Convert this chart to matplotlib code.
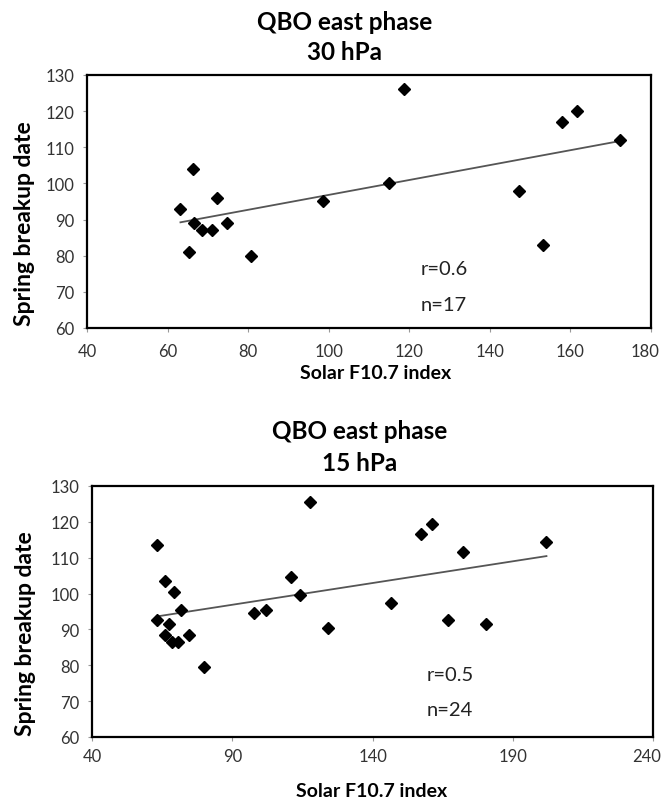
import matplotlib.pyplot as plt
import matplotlib.transforms as mtransforms
import numpy as np

plt.rcParams['font.family'] = ['Lato', 'DejaVu Sans']

# 30 hPa panel
f107_30 = [118.6, 157.8, 161.7, 172.2, 66.2, 115.0, 147.3, 63.2, 72.2, 98.7,
           66.6, 68.6, 71.1, 74.8, 65.3, 80.8, 153.3]
date_30 = [126, 117, 120, 112, 104, 100, 98, 93, 96, 95,
           89, 87, 87, 89, 81, 80, 83]

# 15 hPa panel
f107_15 = [117.7, 63.1, 157.4, 161.2, 172.2, 202.0, 65.9, 69.2, 111.0, 114.3,
           71.8, 97.7, 101.9, 146.6, 63.1, 67.6, 65.9, 68.4, 70.7, 74.4,
           80.0, 124.3, 166.9, 180.4]
date_15 = [125.5, 113.5, 116.5, 119.5, 111.5, 114.5, 103.5, 100.5, 104.5, 99.5,
           95.5, 94.5, 95.5, 97.5, 92.5, 91.5, 88.5, 86.5, 86.5, 88.5,
           79.5, 90.5, 92.5, 91.5]

panels = [
    dict(x=f107_30, y=date_30, level='30 hPa', r='r=0.6', n='n=17',
         xlim=(40, 180), xticks=np.arange(40, 181, 20),
         rect=[0.1312, 0.5908, 0.8507, 0.3147], rpos=(128.6, 76.5, 66.6),
         title_x=0.520, title_y=(0.9726, 0.9353), xlab=(0.512, -0.174),
         ylab=(-0.11, 0.415), xpad=8),
    dict(x=f107_15, y=date_15, level='15 hPa', r='r=0.5', n='n=24',
         xlim=(40, 240), xticks=np.arange(40, 241, 50),
         rect=[0.1388, 0.0821, 0.8462, 0.3122], rpos=(167.7, 77.3, 67.8),
         title_x=0.542, title_y=(0.4630, 0.4237), xlab=(0.499, -0.215),
         ylab=(-0.119, 0.415), xpad=5),
]

fig = plt.figure(figsize=(6.63, 8.04), dpi=100)

for p in panels:
    ax = fig.add_axes(p['rect'])
    x = np.array(p['x'])
    y = np.array(p['y'])
    k, b = np.polyfit(x, y, 1)
    xs = np.array([x.min(), x.max()])
    ax.plot(xs, k * xs + b, color='#555555', lw=1.3, zorder=2)
    ax.plot(x, y, 'D', color='black', ms=6.5, zorder=3)

    ax.set_xlim(*p['xlim'])
    ax.set_ylim(60, 130)
    ax.set_xticks(p['xticks'])
    ax.set_yticks(np.arange(60, 131, 10))
    ax.tick_params(length=3, width=0.8, color='#999999', labelsize=12,
                   labelcolor='#333333')
    ax.tick_params(axis='x', pad=p['xpad'])
    ax.tick_params(axis='y', pad=6)
    for s in ax.spines.values():
        s.set_linewidth(1.6)
        s.set_color('black')

    # last x label pulled in a bit so it stays inside the figure
    last = ax.get_xticklabels()[-1]
    shift = mtransforms.ScaledTranslation(-6 / 100, 0, fig.dpi_scale_trans)
    last.set_transform(last.get_transform() + shift)

    ax.set_xlabel('Solar F10.7 index', fontsize=14, fontweight='bold', va='center')
    ax.xaxis.set_label_coords(*p['xlab'])
    ax.set_ylabel('Spring breakup date', fontsize=16.5, fontweight='bold', va='center')
    ax.yaxis.set_label_coords(*p['ylab'])

    rx, ry, ny = p['rpos']
    ax.text(rx, ry, p['r'], fontsize=14.5, ha='center', va='center', color='#222222')
    ax.text(rx, ny, p['n'], fontsize=14.5, ha='center', va='center', color='#222222')

    fig.text(p['title_x'], p['title_y'][0], 'QBO east phase', fontsize=17.5,
             fontweight='bold', ha='center', va='center')
    fig.text(p['title_x'], p['title_y'][1], p['level'], fontsize=17.5,
             fontweight='bold', ha='center', va='center')

fig.savefig('out.png', dpi=100)
